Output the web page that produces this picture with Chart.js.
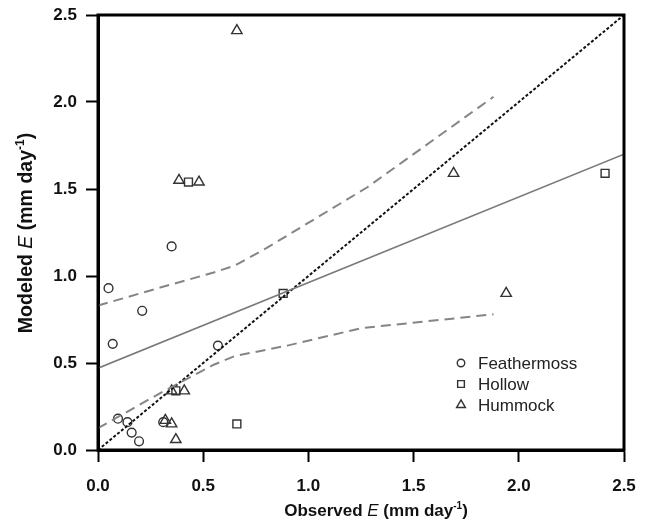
<!DOCTYPE html>
<html lang="en">
<head>
  <meta charset="UTF-8" />
  <title>Observed vs modeled E</title>
  <script src="https://cdn.jsdelivr.net/npm/chart.js"></script>
  <style>
    body {
      margin: 0;
      padding: 0;
      background-color: #ffffff;
    }
    canvas {
      display: block;
    }
  </style>
</head>
<body>
  <canvas id="eChart" width="645" height="526"></canvas>

  <script>
    // observed / modeled E values (mm day-1)
    const feathermossX = [0.05, 0.07, 0.21, 0.35, 0.57, 0.095, 0.14, 0.16, 0.195, 0.31];
    const feathermossY = [0.93, 0.61, 0.80, 1.17, 0.60, 0.18, 0.16, 0.10, 0.05, 0.16];

    const hollowX = [0.43, 0.88, 0.66, 2.41, 0.37];
    const hollowY = [1.54, 0.90, 0.15, 1.59, 0.34];

    const hummockX = [0.66, 0.385, 0.48, 1.69, 1.94, 0.35, 0.41, 0.32, 0.35, 0.37];
    const hummockY = [2.41, 1.55, 1.54, 1.59, 0.90, 0.34, 0.34, 0.17, 0.15, 0.06];

    // regression line and its confidence band
    const fitX = [0, 2.5];
    const fitY = [0.47, 1.70];
    const upperX = [0, 0.3, 0.55, 0.65, 0.8, 1.28, 1.88];
    const upperY = [0.83, 0.935, 1.02, 1.06, 1.16, 1.51, 2.03];
    const lowerX = [0, 0.3, 0.55, 0.65, 0.9, 1.25, 1.88];
    const lowerY = [0.125, 0.33, 0.49, 0.54, 0.60, 0.70, 0.78];

    // 1:1 line
    const oneX = [0, 2.5];
    const oneY = [0, 2.5];

    const tickValues = [0, 0.5, 1.0, 1.5, 2.0, 2.5];
    const seriesNames = ["Feathermoss", "Hollow", "Hummock"];

    const FONT = "'Liberation Sans', Arial, Helvetica, sans-serif";
    const MARK = "#333333";

    const pts = (xs, ys) => xs.map((x, i) => ({ x: x, y: ys[i] }));

    const markerStyles = [
      { pointStyle: "circle", radius: 4.4 },
      { pointStyle: "rect", radius: 5.6 },
      { pointStyle: "triangle", radius: 6 }
    ];

    // frame, axis titles and legend
    const decorations = {
      id: "decorations",
      afterDraw(chart) {
        const c = chart.ctx;
        const a = chart.chartArea;

        c.save();
        c.strokeStyle = "#000";
        c.lineWidth = 3;
        c.strokeRect(a.left, a.top, a.right - a.left, a.bottom - a.top);
        c.restore();

        function drawParts(parts, x, y) {
          let cx = x;
          parts.forEach(p => {
            c.font = p.font;
            c.fillText(p.text, cx, y + (p.dy || 0));
            cx += c.measureText(p.text).width;
          });
        }
        function partsWidth(parts) {
          let w = 0;
          parts.forEach(p => { c.font = p.font; w += c.measureText(p.text).width; });
          return w;
        }
        function titleParts(word, size) {
          return [
            { text: word + " ", font: "bold " + size + "px " + FONT },
            { text: "E", font: "italic " + size + "px " + FONT },
            { text: " (mm day", font: "bold " + size + "px " + FONT },
            { text: "-1", font: "bold " + Math.round(size * 0.6) + "px " + FONT, dy: -size * 0.42 },
            { text: ")", font: "bold " + size + "px " + FONT }
          ];
        }

        c.save();
        c.fillStyle = "#111";
        c.textBaseline = "alphabetic";
        c.textAlign = "left";
        const xp = titleParts("Observed", 17);
        drawParts(xp, 376 - partsWidth(xp) / 2, 516);

        const yp = titleParts("Modeled", 19.5);
        c.translate(32, 233);
        c.rotate(-Math.PI / 2);
        drawParts(yp, -partsWidth(yp) / 2, 0);
        c.restore();

        // legend
        c.save();
        const lx = 461, ly = 363, step = 21;
        seriesNames.forEach((name, i) => {
          const ms = markerStyles[i];
          c.fillStyle = "rgba(0,0,0,0)";
          c.strokeStyle = MARK;
          c.lineWidth = 1.4;
          Chart.helpers.drawPoint(c, {
            pointStyle: ms.pointStyle,
            radius: ms.radius * 0.85,
            borderWidth: 1.4,
            rotation: 0
          }, lx, ly + i * step);
          c.fillStyle = "#222";
          c.font = "17px " + FONT;
          c.textBaseline = "middle";
          c.fillText(name, lx + 17, ly + i * step + 1);
        });
        c.restore();
      }
    };

    function scatterSet(label, xs, ys, i) {
      return {
        label: label,
        data: pts(xs, ys),
        pointStyle: markerStyles[i].pointStyle,
        pointRadius: markerStyles[i].radius,
        pointBorderColor: MARK,
        pointBackgroundColor: "rgba(0,0,0,0)",
        pointBorderWidth: 1.4,
        showLine: false
      };
    }

    function lineSet(label, xs, ys, color, width, dash) {
      return {
        label: label,
        data: pts(xs, ys),
        showLine: true,
        borderColor: color,
        borderWidth: width,
        borderDash: dash,
        pointRadius: 0,
        fill: false,
        tension: 0
      };
    }

    const ctx = document.getElementById("eChart").getContext("2d");

    new Chart(ctx, {
      type: "scatter",
      data: {
        datasets: [
          lineSet("upper", upperX, upperY, "#858585", 2, [10, 6]),
          lineSet("lower", lowerX, lowerY, "#858585", 2, [10, 6]),
          lineSet("fit", fitX, fitY, "#7a7a7a", 1.6, []),
          lineSet("1:1", oneX, oneY, "#111111", 2, [3, 2]),
          scatterSet(seriesNames[0], feathermossX, feathermossY, 0),
          scatterSet(seriesNames[1], hollowX, hollowY, 1),
          scatterSet(seriesNames[2], hummockX, hummockY, 2)
        ]
      },
      options: {
        responsive: false,
        animation: false,
        layout: {
          padding: { top: 15, right: 21, left: 0, bottom: 0 }
        },
        plugins: {
          legend: { display: false },
          tooltip: { enabled: false }
        },
        scales: {
          x: {
            type: "linear",
            min: 0,
            max: 2.5,
            afterBuildTicks: s => { s.ticks = tickValues.map(v => ({ value: v })); },
            afterFit: s => {
              s.height = 76;
              s.paddingLeft = 0;
              s.paddingRight = 0;
            },
            grid: {
              drawOnChartArea: false,
              tickLength: 12,
              tickWidth: 2,
              tickColor: "#000"
            },
            border: { display: true, color: "#000", width: 3 },
            ticks: {
              padding: 14,
              color: "#111",
              font: { family: FONT, size: 17, weight: "bold" },
              callback: v => v.toFixed(1)
            }
          },
          y: {
            type: "linear",
            min: 0,
            max: 2.5,
            afterBuildTicks: s => { s.ticks = tickValues.map(v => ({ value: v })); },
            afterFit: s => {
              s.width = 98;
              s.paddingTop = 0;
              s.paddingBottom = 0;
            },
            grid: {
              drawOnChartArea: false,
              tickLength: 12,
              tickWidth: 2,
              tickColor: "#000"
            },
            border: { display: true, color: "#000", width: 3 },
            ticks: {
              padding: 9,
              color: "#111",
              font: { family: FONT, size: 17, weight: "bold" },
              callback: v => v.toFixed(1)
            }
          }
        }
      },
      plugins: [decorations]
    });
  </script>
</body>
</html>
